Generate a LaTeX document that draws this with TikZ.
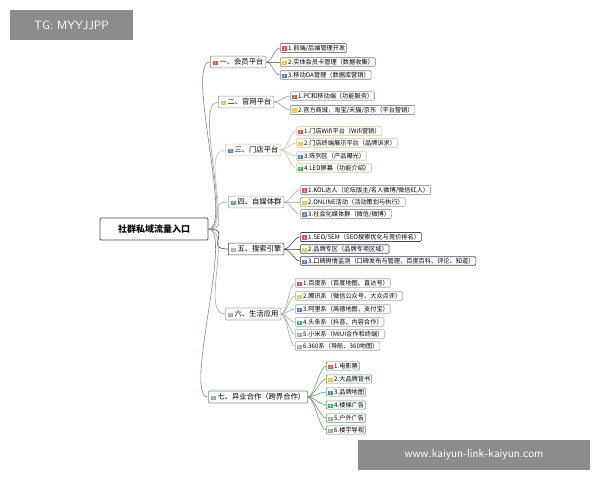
\documentclass[tikz,border=0pt]{standalone}
\usepackage{fontspec}
\setmainfont{Noto Sans CJK SC}
\begin{document}
\begin{tikzpicture}[x=1pt,y=-1pt,
 lf/.style={draw=#1,line width=0.6pt,rounded corners=1pt,anchor=west,inner sep=1.3pt,font=\fontsize{6.2}{7}\selectfont,fill=white},
 br/.style={draw=#1,line width=0.7pt,rounded corners=1pt,anchor=west,inner sep=2.5pt,font=\fontsize{7.3}{8}\selectfont,fill=white},
 con/.style={draw=#1,line width=0.6pt}]
\definecolor{cR}{HTML}{D9534F}\definecolor{cY}{HTML}{F0C040}\definecolor{cB}{HTML}{4A7FC8}
\definecolor{cG}{HTML}{3CB55A}\definecolor{cT}{HTML}{8FB3B0}\definecolor{cE}{HTML}{9AA7A5}
\definecolor{k1}{HTML}{8A7F6E}\definecolor{k2}{HTML}{8C9DB8}\definecolor{k3}{HTML}{D8C3A2}
\definecolor{k4}{HTML}{A5A5A5}\definecolor{k5}{HTML}{3F4760}\definecolor{k6}{HTML}{A8A8A8}\definecolor{k7}{HTML}{6E9A6A}
\newcommand\bd[2]{{\fboxsep=0.5pt\colorbox{#1}{\makebox[4.5pt]{\textcolor{white}{\fontsize{4.5}{5}\selectfont #2}}}}\,}
\useasboundingbox (0,0) rectangle (600,480);
\fill[white] (0,0) rectangle (600,480);
\node[fill=black!45,text=white,minimum width=123pt,minimum height=30pt,font=\fontsize{12}{13}\selectfont\sffamily] (tg) at (71.5,25) {TG: MYYJJPP};
\node[fill=black!45,text=white,minimum width=232pt,minimum height=30pt,font=\fontsize{12}{13}\selectfont\sffamily] (url) at (474,455) {www.kaiyun-link-kaiyun.com};
\node[draw=black!70,line width=0.8pt,rounded corners=1pt,minimum width=108pt,minimum height=22pt,font=\fontsize{9}{10}\selectfont\bfseries,fill=white] (root) at (154,229) {社群私域流量入口};
\node[br=k1] (b1) at (210,62) {\bd{cR}{1}一、会员平台};
\node[br=k2] (b2) at (218,102) {\bd{cY}{2}二、官网平台};
\node[br=k3] (b3) at (225,150) {\bd{cB}{3}三、门店平台};
\node[br=k4] (b4) at (228,202) {\bd{cG}{4}四、自媒体群};
\node[br=k5] (b5) at (228,249) {\bd{cT}{5}五、搜索引擎};
\node[br=k6] (b6) at (225,314) {\bd{cE}{6}六、生活应用};
\node[br=k7] (b7) at (208,397) {\bd{cE}{7}七、异业合作（跨界合作）};
\foreach \b/\c in {b1/k1,b2/k2,b3/k3,b4/k4,b5/k5,b6/k6,b7/k7}
 \draw[con=\c] (root.east) .. controls +(25,0) and +(-25,0) .. (\b.west);
\node[lf=k1] (l11) at (280,48) {\bd{cR}{1}1.前端/后端管理开发};
\node[lf=k1] (l12) at (280,62) {\bd{cY}{2}2.实体会员卡管理（数据收集）};
\node[lf=k1] (l13) at (280,75) {\bd{cB}{3}3.移动OA管理（数据库营销）};
\node[lf=k2] (l21) at (290,96) {\bd{cR}{1}1.PC和移动端（功能服务）};
\node[lf=k2] (l22) at (290,110) {\bd{cY}{2}2.官方商城，淘宝/天猫/京东（平台营销）};
\node[lf=k3] (l31) at (296,131) {\bd{cR}{1}1.门店Wifi平台（Wifi营销）};
\node[lf=k3] (l32) at (296,143) {\bd{cY}{2}2.门店终端展示平台（品牌诉求）};
\node[lf=k3] (l33) at (296,156) {\bd{cB}{3}3.陈列区（产品曝光）};
\node[lf=k3] (l34) at (296,168) {\bd{cG}{4}4.LED屏幕（功能介绍）};
\node[lf=k4] (l41) at (300,190) {\bd{cR}{1}1.KOL达人（论坛版主/名人微博/微信红人）};
\node[lf=k4] (l42) at (300,202) {\bd{cY}{2}2.ONLINE活动（活动策划与执行）};
\node[lf=k4] (l43) at (300,214) {\bd{cB}{3}3.社会化媒体群（微信/微博）};
\node[lf=k5] (l51) at (300,237) {\bd{cR}{1}1.SEO/SEM（SEO搜索优化与竞价排名）};
\node[lf=k5] (l52) at (300,249) {\bd{cY}{2}2.品牌专区（品牌专项区域）};
\node[lf=k5] (l53) at (300,261) {\bd{cB}{3}3.口碑舆情监测（口碑发布与管理，百度百科、评论、知道）};
\node[lf=k6] (l61) at (295,283) {\bd{cR}{1}1.百度系（百度地图、直达号）};
\node[lf=k6] (l62) at (295,296) {\bd{cY}{2}2.腾讯系（微信公众号、大众点评）};
\node[lf=k6] (l63) at (295,309) {\bd{cB}{3}3.阿里系（高德地图，支付宝）};
\node[lf=k6] (l64) at (295,322) {\bd{cG}{4}4.头条系（抖音、内容合作）};
\node[lf=k6] (l65) at (295,334) {\bd{cT}{5}5.小米系（MIUI合作和终端）};
\node[lf=k6] (l66) at (295,346) {\bd{cE}{6}6.360系（导航、360地图）};
\node[lf=k7] (l71) at (326,366) {\bd{cR}{1}1.电影票};
\node[lf=k7] (l72) at (326,379) {\bd{cY}{2}2.大品牌背书};
\node[lf=k7] (l73) at (326,392) {\bd{cB}{3}3.品牌地图};
\node[lf=k7] (l74) at (326,405) {\bd{cG}{4}4.楼梯广告};
\node[lf=k7] (l75) at (326,418) {\bd{cT}{5}5.户外广告};
\node[lf=k7] (l76) at (326,430) {\bd{cE}{6}6.楼宇导视};
\foreach \b/\c/\l in {b1/k1/{l11,l12,l13},b2/k2/{l21,l22},b3/k3/{l31,l32,l33,l34},b4/k4/{l41,l42,l43},b5/k5/{l51,l52,l53},b6/k6/{l61,l62,l63,l64,l65,l66},b7/k7/{l71,l72,l73,l74,l75,l76}}
 \foreach \x in \l
  \draw[con=\c] (\b.east) .. controls +(6,0) and +(-6,0) .. (\x.west);
\end{tikzpicture}
\end{document}
